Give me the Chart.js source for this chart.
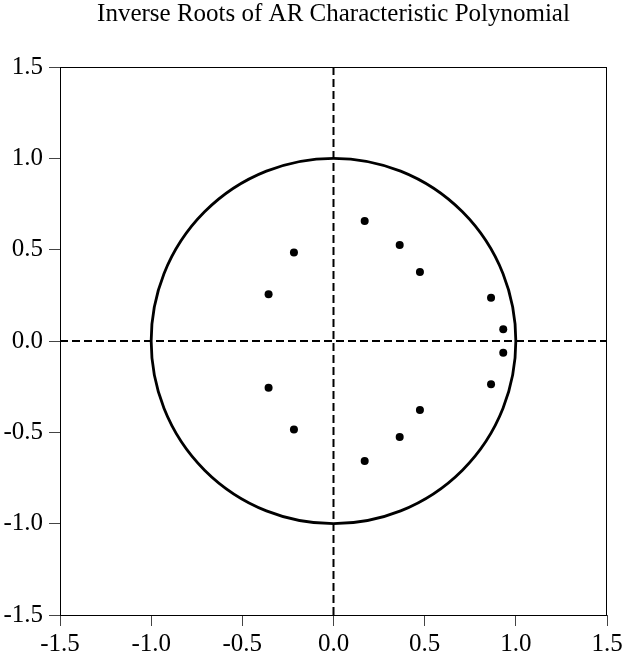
<!DOCTYPE html>
<html>
<head>
<meta charset="utf-8">
<script src="https://cdn.jsdelivr.net/npm/chart.js@4/dist/chart.umd.min.js"></script>
<style>
  body { margin: 0; background: #fff; }
</style>
</head>
<body>
<canvas id="chart" width="622" height="659"></canvas>
<script>
const titleText = "Inverse Roots of AR Characteristic Polynomial";

// inverse roots (real, imaginary)
const rootsRe = [0.171, 0.171, 0.363, 0.363, 0.474, 0.474, 0.864, 0.864, 0.931, 0.931, -0.217, -0.217, -0.356, -0.356];
const rootsIm = [0.657, -0.657, 0.526, -0.526, 0.378, -0.378, 0.237, -0.237, 0.065, -0.065, 0.485, -0.485, 0.256, -0.256];

const axisMin = -1.5;
const axisMax = 1.5;
const tickStep = 0.5;
const unitRadius = 1;

const hLineX = [-1.5, 1.5];
const hLineY = [0, 0];
const vLineX = [0, 0];
const vLineY = [-1.5, 1.5];

const serif = "'Liberation Serif', 'Times New Roman', serif";

const framePlugin = {
  id: "frame",
  beforeDatasetsDraw(chart) {
    const { ctx, scales: { x, y } } = chart;
    const cx = x.getPixelForValue(0), cy = y.getPixelForValue(0);
    const rx = x.getPixelForValue(unitRadius) - cx;
    const ry = cy - y.getPixelForValue(unitRadius);
    ctx.save();
    ctx.strokeStyle = "#000";
    ctx.lineWidth = 2.8;
    ctx.beginPath();
    ctx.ellipse(cx, cy, rx, ry, 0, 0, Math.PI * 2);
    ctx.stroke();
    ctx.restore();
  },
  afterDraw(chart) {
    const { ctx, chartArea: a } = chart;
    ctx.save();
    ctx.strokeStyle = "#000";
    ctx.lineWidth = 1;
    ctx.strokeRect(Math.round(a.left) + 0.5, Math.round(a.top) + 0.5,
      Math.round(a.right - a.left) - 1, Math.round(a.bottom - a.top));
    // title centred over the plot box
    ctx.fillStyle = "#000";
    ctx.font = "25px " + serif;
    ctx.textAlign = "center";
    ctx.textBaseline = "alphabetic";
    ctx.fillText(titleText, (a.left + a.right) / 2, 21);
    ctx.restore();
  }
};

const dashed = [8, 4];

new Chart(document.getElementById("chart"), {
  type: "scatter",
  data: {
    datasets: [
      {
        type: "line",
        data: hLineX.map((v, i) => ({ x: v, y: hLineY[i] })),
        borderColor: "#000",
        borderWidth: 2,
        borderDash: dashed,
        pointRadius: 0
      },
      {
        type: "line",
        data: vLineX.map((v, i) => ({ x: v, y: vLineY[i] })),
        borderColor: "#000",
        borderWidth: 2,
        borderDash: dashed,
        pointRadius: 0
      },
      {
        data: rootsRe.map((v, i) => ({ x: v, y: rootsIm[i] })),
        backgroundColor: "#000",
        borderColor: "#000",
        pointRadius: 4,
        borderWidth: 0
      }
    ]
  },
  options: {
    responsive: false,
    animation: false,
    layout: { padding: { left: 0, right: 15, top: 67, bottom: 0 } },
    plugins: {
      legend: { display: false },
      tooltip: { enabled: false },
      title: { display: false }
    },
    scales: {
      x: {
        type: "linear",
        min: axisMin,
        max: axisMax,
        ticks: {
          stepSize: tickStep,
          color: "#000",
          font: { family: serif, size: 25, lineHeight: 1 },
          padding: 6,
          maxRotation: 0,
          callback: v => v.toFixed(1)
        },
        grid: { drawOnChartArea: false, tickLength: 11, tickColor: "#444", tickWidth: 1 },
        border: { display: false },
        afterFit: s => { s.height = 44; s.paddingLeft = 0; s.paddingRight = 0; }
      },
      y: {
        type: "linear",
        min: axisMin,
        max: axisMax,
        ticks: {
          stepSize: tickStep,
          color: "#000",
          font: { family: serif, size: 25 },
          padding: 6,
          callback: v => v.toFixed(1)
        },
        grid: { drawOnChartArea: false, tickLength: 11, tickColor: "#444", tickWidth: 1 },
        border: { display: false },
        afterFit: s => { s.width = 60; s.paddingTop = 0; s.paddingBottom = 0; }
      }
    }
  },
  plugins: [framePlugin]
});
</script>
</body>
</html>
